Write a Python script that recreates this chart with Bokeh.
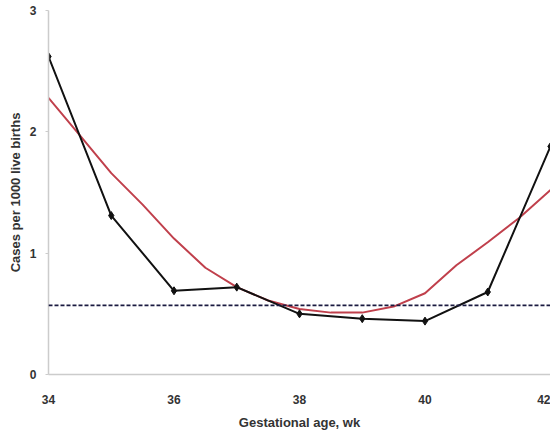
from bokeh.plotting import figure
from bokeh.models import Range1d, FixedTicker, Span
from bokeh.embed import file_html
from bokeh.resources import INLINE

weeks = [34, 35, 36, 37, 38, 39, 40, 41, 42]
observed = [2.62, 1.31, 0.69, 0.72, 0.50, 0.46, 0.44, 0.68, 1.88]

fit_weeks = [34, 34.5, 35, 35.5, 36, 36.5, 37, 37.5, 38, 38.5, 39, 39.5, 40, 40.5, 41, 41.5, 42]
fit_values = [2.28, 1.97, 1.66, 1.40, 1.12, 0.88, 0.72, 0.61, 0.54, 0.51, 0.51, 0.56, 0.67, 0.90, 1.09, 1.29, 1.52]

baseline = 0.57

x_ticks = [34, 36, 38, 40, 42]
y_ticks = [0, 1, 2, 3]

FONT = "Liberation Sans"

p = figure(frame_width=502, frame_height=364, output_backend="svg", toolbar_location=None,
           x_range=Range1d(34, 42), y_range=Range1d(0, 3),
           min_border_left=48, min_border_right=0, min_border_top=10, min_border_bottom=40)
p.outline_line_color = None
p.grid.visible = False

p.add_layout(Span(location=baseline, dimension="width", line_color="#1a1a40",
                  line_width=1.6, line_dash="4 2"))
p.line(fit_weeks, fit_values, line_color="#c0404c", line_width=2)
p.line(weeks, observed, line_color="#111111", line_width=2)
p.scatter(weeks, observed, marker="diamond", size=8, color="#111111")

p.xaxis.ticker = FixedTicker(ticks=x_ticks)
p.yaxis.ticker = FixedTicker(ticks=y_ticks)
p.xaxis.axis_label = "Gestational age, wk"
p.yaxis.axis_label = "Cases per 1000 live births"

for ax in (p.xaxis[0], p.yaxis[0]):
    ax.axis_label_text_font = FONT
    ax.axis_label_text_font_style = "bold"
    ax.axis_label_text_font_size = "13px"
    ax.axis_label_text_color = "#333333"
    ax.major_label_text_font = FONT
    ax.major_label_text_font_style = "bold"
    ax.major_label_text_font_size = "12px"
    ax.major_label_text_color = "#333333"
    ax.minor_tick_line_color = None
    ax.axis_line_color = "#cccccc"
    ax.axis_line_width = 1.5

p.xaxis.major_tick_line_color = None
p.xaxis.major_label_standoff = 14
p.xaxis.axis_label_standoff = 8
p.yaxis.major_tick_line_color = "#cccccc"
p.yaxis.major_tick_out = 3
p.yaxis.major_tick_in = 0
p.yaxis.major_label_standoff = 9
p.yaxis.axis_label_standoff = 4

open("out.html", "w").write(file_html(p, INLINE))
